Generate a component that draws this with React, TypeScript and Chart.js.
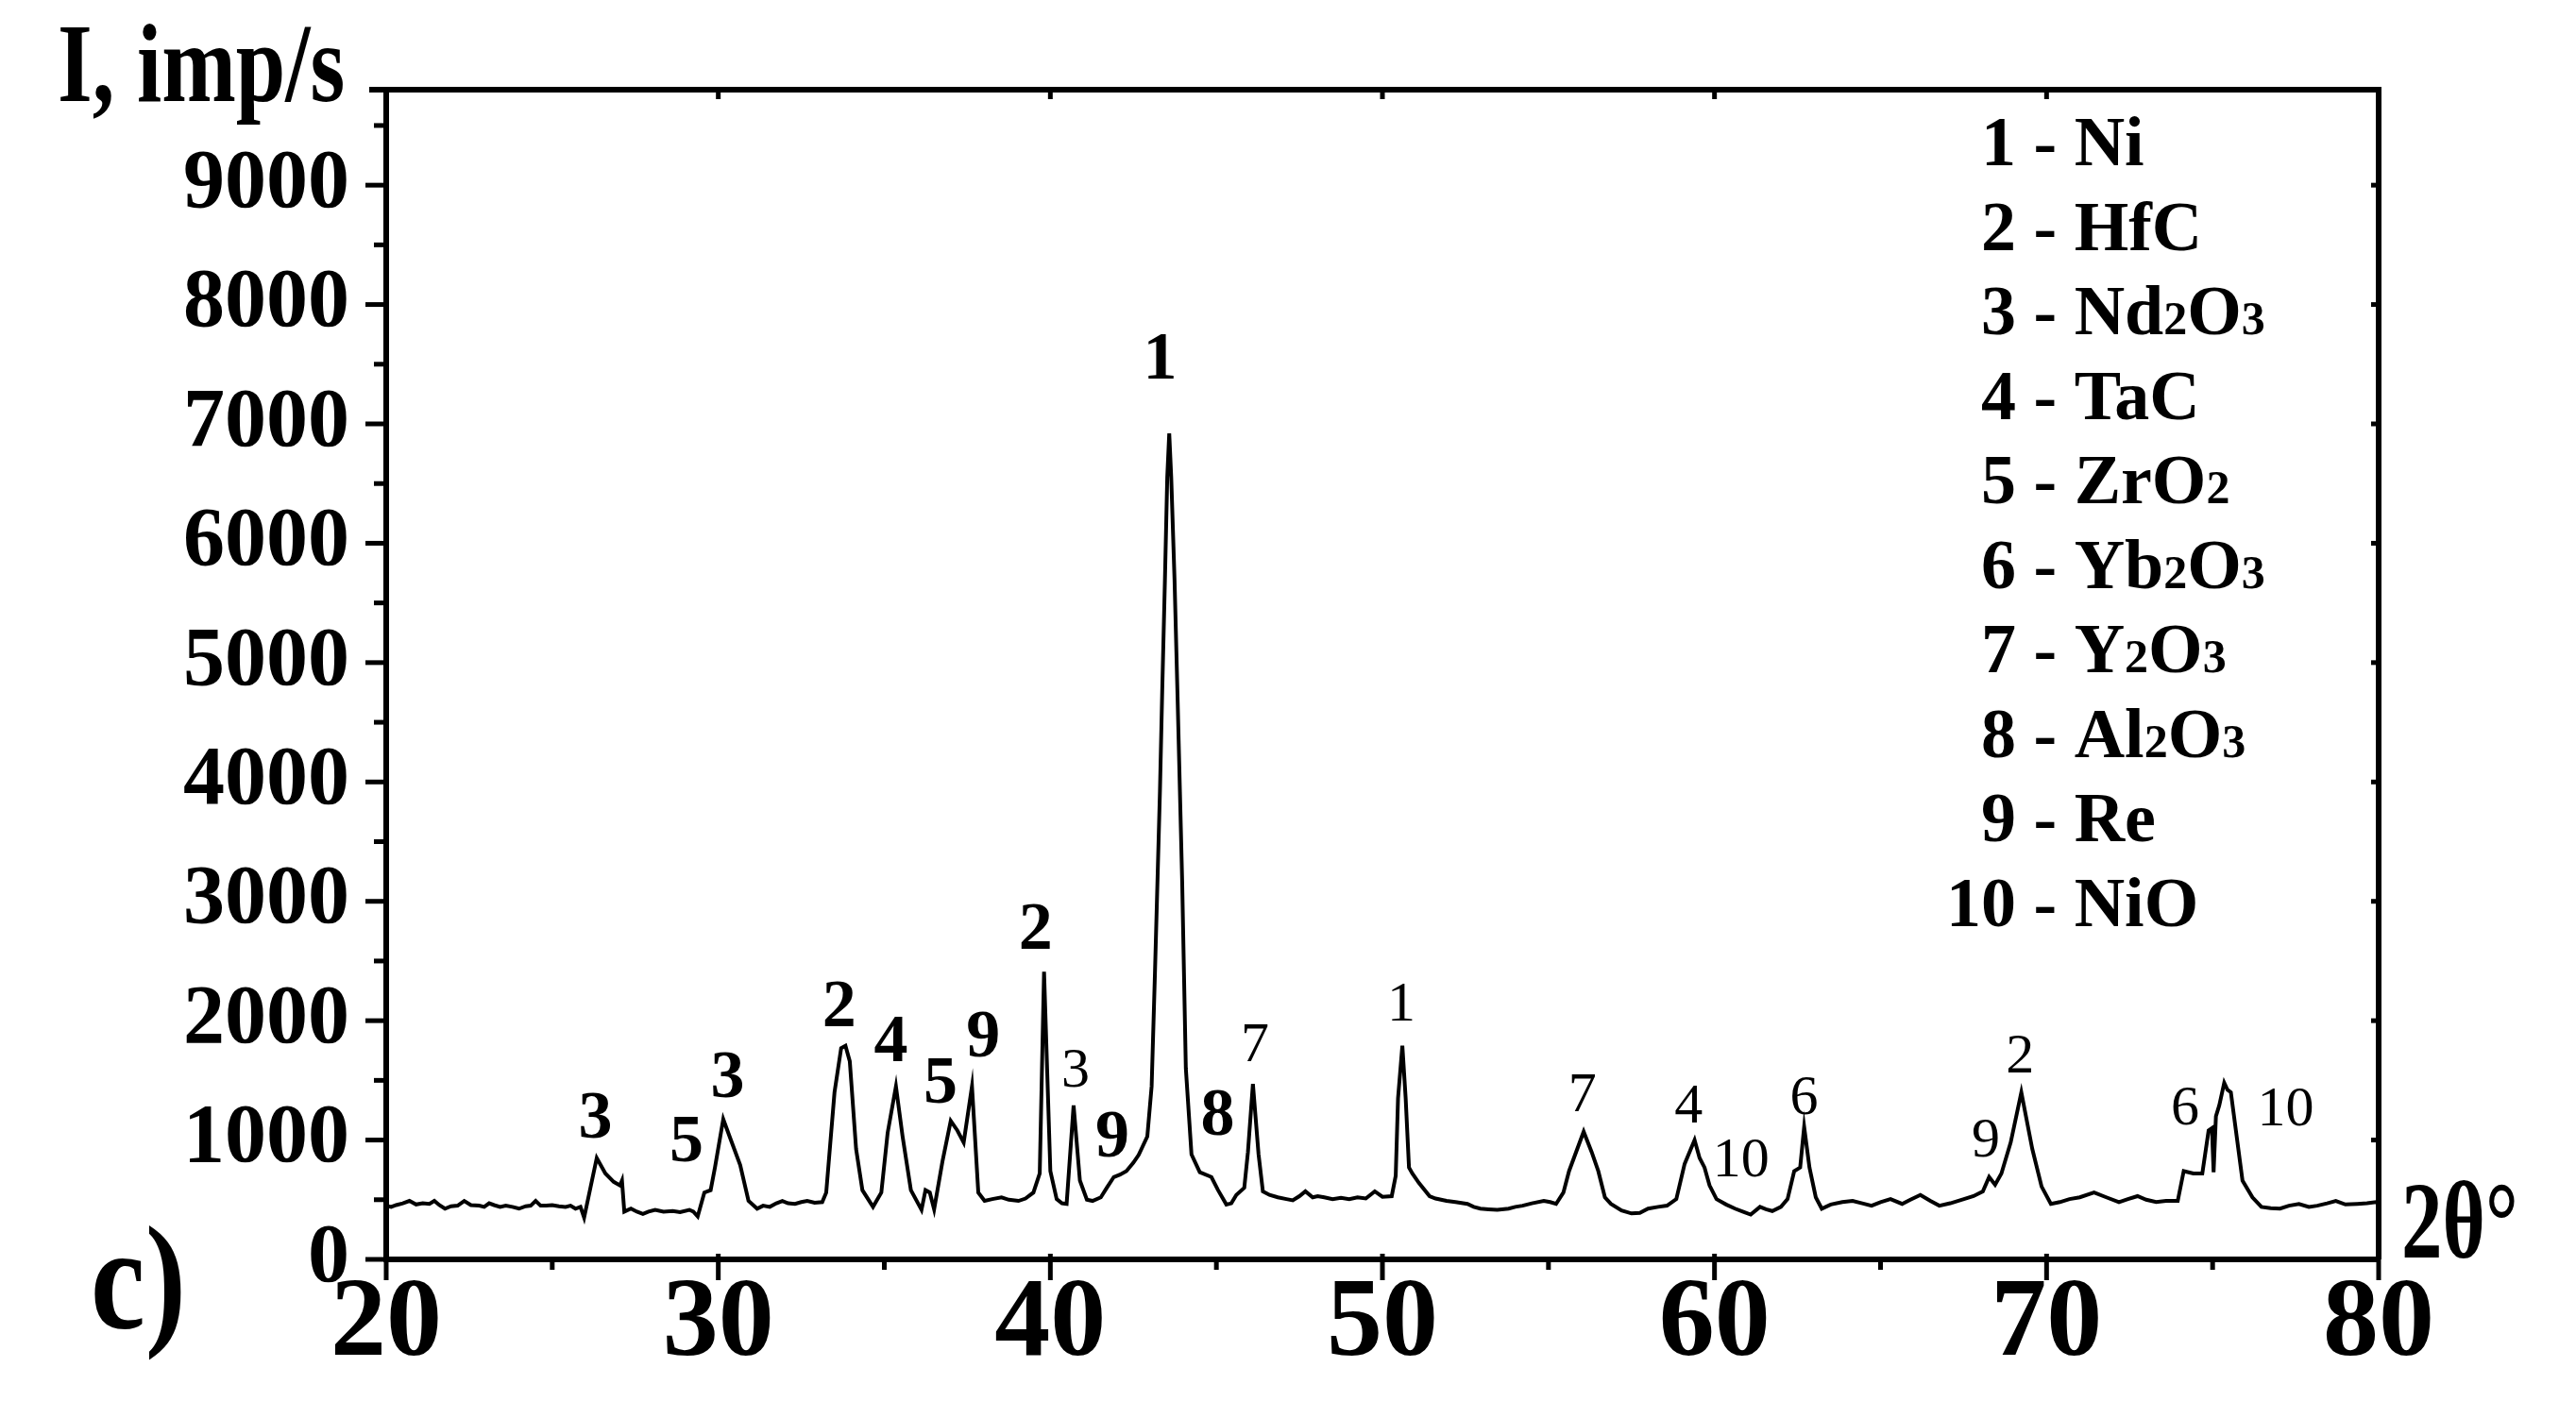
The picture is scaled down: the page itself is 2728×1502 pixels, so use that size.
import React, { useEffect, useRef } from 'react';
import { Chart, registerables } from 'chart.js';

Chart.register(...registerables);

// 2θ (deg) and intensity (imp/s)
const twoTheta = [
  20.0, 20.15, 20.3, 20.5, 20.7, 20.9, 21.1, 21.3, 21.45, 21.6, 21.77, 21.95, 22.15, 22.35, 22.55, 22.8, 22.95,
  23.1, 23.25, 23.43, 23.6, 23.8, 24.0, 24.2, 24.35, 24.5, 24.65, 24.82, 25.0, 25.2, 25.4, 25.55, 25.7, 25.85,
  25.96, 26.15, 26.34, 26.6, 26.85, 27.04, 27.1, 27.17, 27.37, 27.55, 27.73, 27.9, 28.1, 28.35, 28.63, 28.85,
  29.13, 29.25, 29.38, 29.58, 29.77, 29.9, 30.15, 30.34, 30.66, 30.91, 31.17, 31.35, 31.55, 31.75, 31.93, 32.1,
  32.31, 32.5, 32.68, 32.9, 33.13, 33.25, 33.5, 33.7, 33.83, 33.96, 34.15, 34.34, 34.66, 34.91, 35.1, 35.35,
  35.55, 35.8, 36.12, 36.24, 36.37, 36.5, 36.75, 37.0, 37.2, 37.39, 37.64, 37.83, 38.02, 38.25, 38.53, 38.75,
  39.04, 39.25, 39.49, 39.68, 39.81, 40.0, 40.19, 40.35, 40.49, 40.7, 40.89, 41.1, 41.27, 41.52, 41.7, 41.91,
  42.1, 42.29, 42.5, 42.66, 42.92, 43.05, 43.15, 43.3, 43.37, 43.45, 43.52, 43.58, 43.64, 43.74, 43.83, 43.97,
  44.08, 44.25, 44.5, 44.85, 45.05, 45.3, 45.45, 45.6, 45.84, 45.95, 46.1, 46.27, 46.4, 46.6, 46.85, 47.11,
  47.3, 47.5, 47.68, 47.9, 48.05, 48.25, 48.5, 48.75, 49.0, 49.25, 49.5, 49.77, 50.0, 50.28, 50.4, 50.47, 50.6,
  50.7, 50.8, 50.9, 51.1, 51.42, 51.6, 51.93, 52.2, 52.56, 52.75, 52.95, 53.2, 53.46, 53.8, 54.0, 54.22, 54.5,
  54.86, 55.05, 55.23, 55.45, 55.62, 56.06, 56.3, 56.5, 56.7, 56.88, 57.2, 57.5, 57.75, 58.0, 58.3, 58.57,
  58.85, 59.1, 59.4, 59.55, 59.7, 59.85, 60.06, 60.35, 60.62, 60.85, 61.09, 61.37, 61.55, 61.74, 62.0, 62.2,
  62.4, 62.58, 62.7, 62.86, 63.05, 63.23, 63.5, 63.85, 64.16, 64.45, 64.73, 65.0, 65.3, 65.65, 65.9, 66.2,
  66.5, 66.77, 67.1, 67.51, 67.8, 68.08, 68.27, 68.45, 68.64, 68.92, 69.24, 69.57, 69.85, 70.13, 70.4, 70.69,
  71.0, 71.43, 71.8, 72.18, 72.45, 72.74, 73.0, 73.3, 73.6, 73.95, 74.13, 74.42, 74.69, 74.88, 74.98, 75.03,
  75.1, 75.2, 75.35, 75.45, 75.55, 75.9, 76.2, 76.47, 76.75, 77.03, 77.3, 77.6, 77.9, 78.15, 78.45, 78.71,
  79.0, 79.36, 79.65, 79.92, 80.0,
];

const intensity = [
  450, 440, 455, 470, 490, 460, 470, 465, 490, 455, 425, 445, 450, 490, 455, 450, 440,
  470, 455, 440, 450, 440, 425, 445, 450, 490, 450, 450, 455, 445, 440, 450, 425, 440,
  350, 600, 850, 720, 650, 620, 660, 400, 425, 400, 380, 400, 415, 400, 405, 395,
  415, 400, 360, 560, 580, 770, 1175, 1030, 790, 490, 425, 450, 440, 470, 490, 470,
  465, 480, 490, 475, 480, 560, 1400, 1770, 1790, 1660, 925, 580, 440, 560, 1060, 1450,
  1030, 580, 415, 580, 560, 420, 820, 1160, 1080, 980, 1450, 560, 490, 505, 520, 500,
  490, 510, 560, 720, 2410, 740, 505, 470, 465, 1290, 660, 500, 490, 520, 600, 690,
  710, 740, 810, 875, 1030, 1450, 2400, 3920, 4780, 5690, 6550, 6920, 6550, 5690, 4720, 3160,
  1600, 880, 730, 690, 580, 460, 470, 540, 600, 900, 1470, 880, 570, 540, 520, 505,
  495, 530, 570, 520, 530, 520, 505, 515, 505, 520, 510, 570, 525, 530, 700, 1350, 1790,
  1350, 770, 720, 640, 530, 510, 490, 480, 465, 440, 425, 420, 415, 425, 440, 450, 470,
  490, 480, 465, 560, 740, 1070, 900, 740, 520, 465, 410, 385, 390, 425, 440, 450,
  505, 800, 1000, 850, 770, 620, 505, 460, 425, 400, 375, 440, 420, 405, 440, 505,
  740, 770, 1110, 770, 520, 425, 460, 480, 490, 470, 450, 480, 505, 465, 500, 540,
  490, 450, 470, 505, 530, 570, 690, 625, 720, 980, 1400, 925, 610, 465, 480, 505,
  520, 560, 520, 480, 505, 530, 500, 480, 490, 490, 740, 720, 720, 1080, 1100, 730,
  1200, 1290, 1480, 1420, 1400, 660, 520, 440, 430, 425, 450, 465, 440, 450, 470, 490,
  460, 465, 470, 480, 470,
];

// axis ticks (labels only on the round ones)
const xTicks = [20, 25, 30, 35, 40, 45, 50, 55, 60, 65, 70, 75, 80];
const yTicks = [0, 500, 1000, 1500, 2000, 2500, 3000, 3500, 4000, 4500, 5000, 5500, 6000, 6500, 7000, 7500, 8000, 8500, 9000, 9500];

// phase numbers written over the peaks
const peakTagText = ['3', '5', '3', '2', '4', '5', '9', '2', '3', '9', '1', '8', '7', '1', '7', '4', '10', '6', '9', '2', '6', '10'];
const peakTagX = [26.3, 29.04, 30.28, 33.64, 35.2, 36.69, 37.98, 39.56, 40.76, 41.87, 43.3, 45.04, 46.16, 50.57, 56.02, 59.22, 60.8, 62.7, 68.17, 69.2, 74.17, 77.2];
const peakTagY = [1020, 820, 1360, 1950, 1660, 1310, 1700, 2600, 1450, 860, 7380, 1045, 1660, 2000, 1240, 1150, 700, 1215, 860, 1570, 1135, 1120];
const peakTagMajor = [true, true, true, true, true, true, true, true, false, true, true, true, false, false, false, false, false, false, false, false, false, false];

// phase legend
const phaseNames = ['Ni', 'HfC', 'Nd2O3', 'TaC', 'ZrO2', 'Yb2O3', 'Y2O3', 'Al2O3', 'Re', 'NiO'];

const SERIF = "'Liberation Serif', 'Times New Roman', serif";

const drawText = (
  ctx: CanvasRenderingContext2D,
  text: string,
  x: number,
  y: number,
  font: string,
  align: CanvasTextAlign = 'left',
  sx = 1,
  sy = 1
) => {
  ctx.save();
  ctx.translate(x, y);
  ctx.scale(sx, sy);
  ctx.font = font;
  ctx.textAlign = align;
  ctx.textBaseline = 'alphabetic';
  ctx.fillText(text, 0, 0);
  ctx.restore();
};

const decorPlugin = {
  id: 'xrdDecor',
  afterDraw(chart: any) {
    const { ctx, chartArea: a, scales } = chart;
    const x = scales.x;
    const y = scales.y;
    ctx.save();
    ctx.strokeStyle = '#000';
    ctx.fillStyle = '#000';

    // top and right frame
    ctx.lineWidth = 6;
    ctx.beginPath();
    ctx.moveTo(a.left - 18, a.top);
    ctx.lineTo(a.right, a.top);
    ctx.lineTo(a.right, a.bottom);
    ctx.stroke();

    // tick marks
    ctx.lineWidth = 5;
    const seg = (x1: number, y1: number, x2: number, y2: number) => {
      ctx.beginPath();
      ctx.moveTo(x1, y1);
      ctx.lineTo(x2, y2);
      ctx.stroke();
    };
    x.ticks.forEach((t: any) => {
      const px = x.getPixelForValue(t.value);
      const major = t.value % 10 === 0;
      seg(px, a.bottom - (major ? 6 : 0), px, a.bottom + (major ? 22 : 11));
      if (major) seg(px, a.top, px, a.top + 10);
    });
    y.ticks.forEach((t: any) => {
      const py = y.getPixelForValue(t.value);
      const major = t.value % 1000 === 0;
      seg(a.left - (major ? 22 : 13), py, a.left, py);
      if (major) seg(a.right - 8, py, a.right, py);
    });

    // axis titles and panel letter
    drawText(ctx, 'I, imp/s', 61, a.top + 12, `bold 118px ${SERIF}`, 'left', 0.8);
    drawText(ctx, '2θ°', a.right + 24, a.bottom - 2, `bold 116px ${SERIF}`, 'left', 0.75);
    drawText(ctx, 'c)', 96, a.bottom + 73, `bold 130px ${SERIF}`, 'left', 1, 1.2);

    // peak tags
    peakTagText.forEach((txt, i) => {
      const px = x.getPixelForValue(peakTagX[i]);
      const py = y.getPixelForValue(peakTagY[i]);
      const font = peakTagMajor[i] ? `bold 72px ${SERIF}` : `60px ${SERIF}`;
      drawText(ctx, txt, px, py, font, 'center');
    });

    // legend with subscripted digits
    const numRight = a.right - 384;
    phaseNames.forEach((name, i) => {
      const base = a.top + 80 + 89.5 * i;
      drawText(ctx, String(i + 1), numRight, base, `bold 74px ${SERIF}`, 'right');
      let cx = numRight;
      const parts = (' - ' + name).match(/\d+|\D+/g) || [];
      parts.forEach((p) => {
        const sub = /^\d+$/.test(p);
        ctx.font = sub ? `bold 50px ${SERIF}` : `bold 74px ${SERIF}`;
        ctx.textAlign = 'left';
        ctx.textBaseline = 'alphabetic';
        ctx.fillText(p, cx, base);
        cx += ctx.measureText(p).width;
      });
    });

    ctx.restore();
  },
};

const App: React.FC = () => {
  const canvasRef = useRef<HTMLCanvasElement>(null);
  const chartRef = useRef<Chart | null>(null);

  useEffect(() => {
    document.body.style.margin = '0';
    if (!canvasRef.current) return;
    const ctx = canvasRef.current.getContext('2d');
    if (!ctx) return;

    chartRef.current = new Chart(ctx, {
      type: 'line',
      data: {
        datasets: [
          {
            data: twoTheta.map((t, i) => ({ x: t, y: intensity[i] })),
            borderColor: '#000',
            borderWidth: 4,
            pointRadius: 0,
            tension: 0,
            fill: false,
          },
        ],
      },
      plugins: [decorPlugin],
      options: {
        animation: false,
        responsive: true,
        maintainAspectRatio: false,
        layout: { padding: { top: 95, right: 209, left: 0, bottom: 0 } },
        plugins: {
          legend: { display: false },
          tooltip: { enabled: false },
        },
        scales: {
          x: {
            type: 'linear',
            min: 20,
            max: 80,
            afterFit: (scale: any) => {
              scale.height = 168;
            },
            afterBuildTicks: (scale: any) => {
              scale.ticks = xTicks.map((v) => ({ value: v }));
            },
            border: { display: true, color: '#000', width: 6 },
            grid: { drawOnChartArea: false, tickLength: 22, tickColor: 'rgba(0,0,0,0)' },
            ticks: {
              autoSkip: false,
              maxRotation: 0,
              minRotation: 0,
              padding: -10,
              color: '#000',
              font: { family: SERIF, size: 118, weight: 'bold', lineHeight: 1 },
              callback: (v: any) => (Number(v) % 10 === 0 ? String(v) : ''),
            },
          },
          y: {
            min: 0,
            max: 9800,
            afterFit: (scale: any) => {
              scale.width = 409;
            },
            afterBuildTicks: (scale: any) => {
              scale.ticks = yTicks.map((v) => ({ value: v }));
            },
            border: { display: true, color: '#000', width: 6 },
            grid: { drawOnChartArea: false, tickLength: 22, tickColor: 'rgba(0,0,0,0)' },
            ticks: {
              autoSkip: false,
              padding: 17,
              color: '#000',
              font: { family: SERIF, size: 88, weight: 'bold', lineHeight: 1 },
              callback: (v: any) => (Number(v) % 1000 === 0 ? String(v) : ''),
            },
          },
        },
      },
    } as any);

    return () => {
      if (chartRef.current) {
        chartRef.current.destroy();
        chartRef.current = null;
      }
    };
  }, []);

  return (
    <div style={{ width: '2728px', height: '1502px', position: 'relative', background: '#fff' }}>
      <canvas ref={canvasRef}></canvas>
    </div>
  );
};

export default App;
